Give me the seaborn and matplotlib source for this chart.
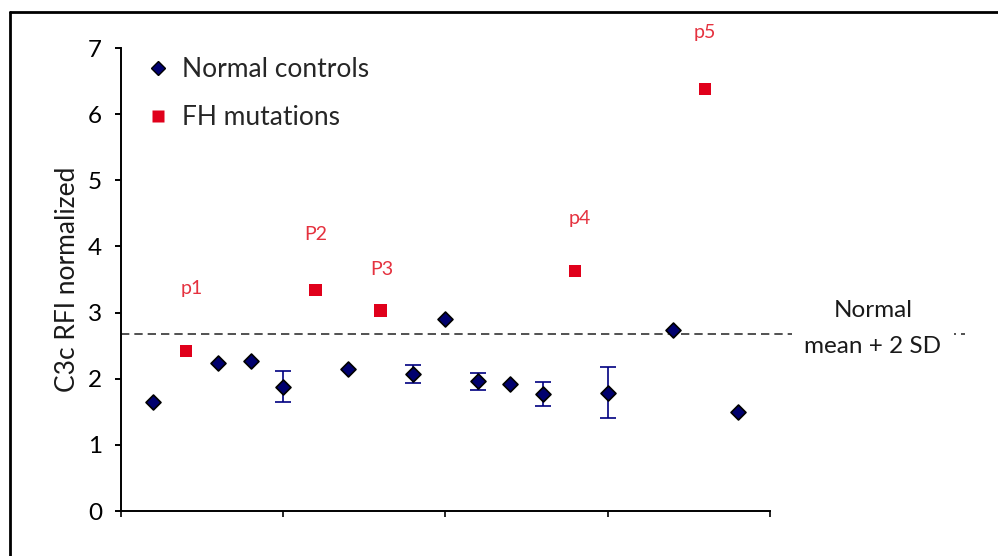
import matplotlib
matplotlib.use("Agg")
import matplotlib.pyplot as plt
import seaborn as sns
import pandas as pd
from matplotlib.lines import Line2D

# data
control_x = [1, 3, 4, 5, 7, 9, 10, 11, 12, 13, 15, 17, 19]
control_y = [1.65, 2.24, 2.27, 1.88, 2.15, 2.07, 2.91, 1.96, 1.92, 1.77, 1.79, 2.74, 1.49]
control_err = [0, 0, 0, 0.23, 0, 0.14, 0, 0.13, 0, 0.185, 0.385, 0, 0]

fh_x = [2, 6, 8, 14, 18]
fh_y = [2.42, 3.34, 3.03, 3.63, 6.38]
fh_labels = ["p1", "P2", "P3", "p4", "p5"]

threshold = 2.68  # normal mean + 2 SD

x_ticks = [0, 5, 10, 15, 20]
y_ticks = [0, 1, 2, 3, 4, 5, 6, 7]

# label offsets in points (layout only)
label_offsets = [(4, 41), (0, 36), (1, 26), (3, 34), (0, 36.5)]

NAVY = "#00006e"
RED = "#e0001b"
LABEL_RED = "#e5323f"

sns.set_theme(style="white")
plt.rcParams["font.family"] = ["Lato", "DejaVu Sans"]

controls = pd.DataFrame({"x": control_x, "y": control_y, "err": control_err})
fh = pd.DataFrame({"x": fh_x, "y": fh_y, "label": fh_labels})

fig = plt.figure(figsize=(9.98, 5.56), dpi=100)
ax = fig.add_axes([0.1212, 0.0809, 0.6503, 0.8327])

# dashed threshold line, runs out past the axes under the note
ax.axhline(threshold, xmin=0, xmax=1.30, color="#333333", lw=1.2,
           ls=(0, (5, 3)), clip_on=False, zorder=1)

eb = controls[controls["err"] > 0]
ax.errorbar(eb["x"], eb["y"], yerr=eb["err"], fmt="none", ecolor="#000080",
            elinewidth=1.2, capsize=5.5, capthick=1.2, zorder=2)

sns.scatterplot(data=controls, x="x", y="y", marker="D", s=58, color=NAVY,
                edgecolor="black", linewidth=1.2, ax=ax, zorder=3, legend=False)
sns.scatterplot(data=fh, x="x", y="y", marker="s", s=80, color=RED,
                edgecolor="none", linewidth=0, ax=ax, zorder=3, legend=False)

for (_, row), off in zip(fh.iterrows(), label_offsets):
    ax.annotate(row["label"], (row["x"], row["y"]), xytext=off,
                textcoords="offset points", ha="center", va="baseline",
                color=LABEL_RED, fontsize=14, annotation_clip=False)

ax.text(23.17, 2.76, "Normal\nmean + 2 SD", ha="center", va="center",
        multialignment="center", fontsize=17.5, linespacing=1.85,
        color="#1a1a1a", clip_on=False, zorder=4,
        bbox=dict(facecolor="white", edgecolor="none", pad=9))

ax.set_xlim(0, 20)
ax.set_ylim(0, 7)
ax.set_xticks(x_ticks)
ax.set_xticklabels([])
ax.set_yticks(y_ticks)
ax.tick_params(axis="y", direction="out", length=4.5, width=1.4, pad=9,
               labelsize=17.5, left=True, colors="black")
ax.tick_params(axis="x", direction="out", length=4.5, width=1.4, bottom=True)
ax.set_xlabel("")
ax.set_ylabel("C3c RFI normalized", fontsize=19, color="#1a1a1a")
ax.yaxis.set_label_coords(-0.083, 0.5)
ax.yaxis.label.set_verticalalignment("center")

for side in ["top", "right"]:
    ax.spines[side].set_visible(False)
for side in ["left", "bottom"]:
    ax.spines[side].set_color("black")
    ax.spines[side].set_linewidth(1.4)

handles = [
    Line2D([], [], marker="D", ls="none", markersize=7, markerfacecolor=NAVY,
           markeredgecolor="black", markeredgewidth=1.0),
    Line2D([], [], marker="s", ls="none", markersize=9, markerfacecolor=RED,
           markeredgecolor="none"),
]
ax.legend(handles, ["Normal controls", "FH mutations"], loc="upper left",
          bbox_to_anchor=(0.0, 1.032), frameon=False, fontsize=19,
          handlelength=1.0, handletextpad=0.4, borderpad=0.4, labelspacing=0.89)

# outer frame of the original figure (left and top edges only)
fig.add_artist(Line2D([0.01, 0.01], [0, 0.979], transform=fig.transFigure,
                      color="black", lw=2))
fig.add_artist(Line2D([0.01, 1.0], [0.979, 0.979], transform=fig.transFigure,
                      color="black", lw=2))

fig.savefig("out.png", dpi=100)
